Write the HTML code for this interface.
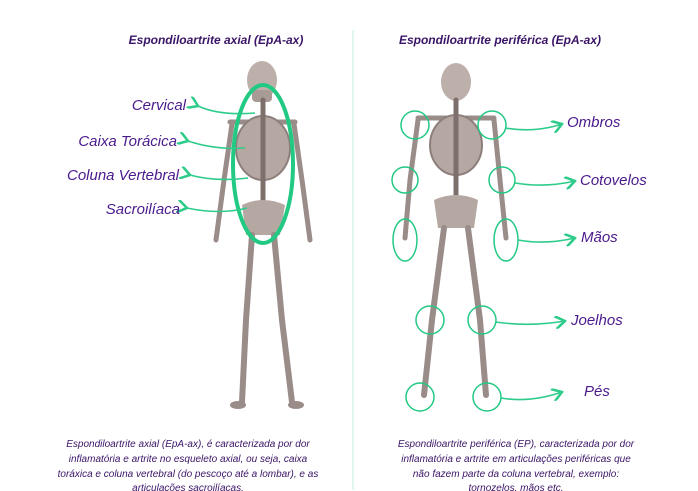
<!DOCTYPE html>
<html><head><meta charset="utf-8"><style>
body{margin:0;background:#fff;width:698px;height:491px;overflow:hidden;font-family:"Liberation Sans",sans-serif}
svg{position:absolute;left:0;top:0}
</style></head><body>
<svg width="698" height="491" viewBox="0 0 698 491" xmlns="http://www.w3.org/2000/svg">
<defs>
<marker id="ah" markerWidth="8" markerHeight="8" refX="1" refY="4" orient="auto"><path d="M7,0 L1,4 L7,8" fill="none" stroke="#2ecc8a" stroke-width="1.6"/></marker>
<marker id="ahr" markerWidth="8" markerHeight="8" refX="7" refY="4" orient="auto"><path d="M1,0 L7,4 L1,8" fill="none" stroke="#2ecc8a" stroke-width="1.6"/></marker>
</defs>
<line x1="353" y1="30" x2="353" y2="490" stroke="#c5ece0" stroke-width="1"/>
<text x="216" y="44" text-anchor="middle" font-size="12" font-weight="bold" font-style="italic" fill="#3a1466">Espondiloartrite axial (EpA-ax)</text>
<text x="500" y="44" text-anchor="middle" font-size="12" font-weight="bold" font-style="italic" fill="#3a1466">Espondiloartrite periférica (EpA-ax)</text>

<g stroke="#9a8c88" stroke-linecap="round" fill="none">
<ellipse cx="262" cy="80" rx="15" ry="19" fill="#bdb0ab" stroke="none"/>
<rect x="252" y="90" width="20" height="12" rx="4" fill="#a89b96" stroke="none"/>
<path d="M230 122 L295 122" stroke-width="5"/>
<ellipse cx="263" cy="148" rx="27" ry="32" fill="#b5a8a3" stroke="#8d807c" stroke-width="2"/>
<path d="M263 100 L263 215" stroke-width="5" stroke="#7d706c"/>
<path d="M242 205 Q263 195 285 205 L280 235 L246 235 Z" fill="#b5a8a3" stroke="none"/>
<path d="M232 124 L224 180 L216 240" stroke-width="5"/>
<path d="M294 124 L302 180 L310 240" stroke-width="5"/>
<path d="M252 235 L246 320 L242 402" stroke-width="6"/>
<path d="M274 235 L282 320 L292 402" stroke-width="6"/>
<ellipse cx="238" cy="405" rx="8" ry="4" fill="#9a8c88" stroke="none"/>
<ellipse cx="296" cy="405" rx="8" ry="4" fill="#9a8c88" stroke="none"/>
</g>
<ellipse cx="263" cy="164" rx="30" ry="79" fill="none" stroke="#22c983" stroke-width="4"/>

<g stroke="#9a8c88" stroke-linecap="round" fill="none">
<ellipse cx="456" cy="82" rx="15" ry="19" fill="#bdb0ab" stroke="none"/>
<path d="M418 118 L494 118" stroke-width="5"/>
<ellipse cx="456" cy="145" rx="26" ry="30" fill="#b5a8a3" stroke="#8d807c" stroke-width="2"/>
<path d="M456 100 L456 210" stroke-width="5" stroke="#7d706c"/>
<path d="M434 200 Q456 190 478 200 L474 228 L438 228 Z" fill="#b5a8a3" stroke="none"/>
<path d="M418 120 L410 180 L405 238" stroke-width="5"/>
<path d="M494 120 L500 180 L506 238" stroke-width="5"/>
<path d="M444 228 L432 320 L424 395" stroke-width="6"/>
<path d="M468 228 L480 320 L486 395" stroke-width="6"/>
</g>
<g fill="none" stroke="#22c983" stroke-width="1.5">
<circle cx="415" cy="125" r="14"/><circle cx="492" cy="125" r="14"/>
<circle cx="405" cy="180" r="13"/><circle cx="502" cy="180" r="13"/>
<ellipse cx="405" cy="240" rx="12" ry="21"/><ellipse cx="506" cy="240" rx="12" ry="21"/>
<circle cx="430" cy="320" r="14"/><circle cx="482" cy="320" r="14"/>
<circle cx="420" cy="397" r="14"/><circle cx="487" cy="397" r="14"/>
</g>

<g fill="none" stroke="#2ecc8a" stroke-width="1.6">
<path d="M255 113 Q220 116 198 106" marker-end="url(#ah)"/>
<path d="M245 148 Q215 150 188 141" marker-end="url(#ah)"/>
<path d="M248 178 Q215 182 190 175" marker-end="url(#ah)"/>
<path d="M247 208 Q220 215 187 208" marker-end="url(#ah)"/>
<path d="M505 128 Q535 133 562 124" marker-end="url(#ahr)"/>
<path d="M515 183 Q545 188 575 181" marker-end="url(#ahr)"/>
<path d="M518 240 Q545 245 575 238" marker-end="url(#ahr)"/>
<path d="M496 322 Q530 327 565 321" marker-end="url(#ahr)"/>
<path d="M501 398 Q530 403 562 392" marker-end="url(#ahr)"/>
</g>
<g font-size="15" font-style="italic" fill="#4a1a8c">
<text x="186" y="110" text-anchor="end">Cervical</text>
<text x="177" y="146" text-anchor="end">Caixa Torácica</text>
<text x="179" y="180" text-anchor="end">Coluna Vertebral</text>
<text x="180" y="214" text-anchor="end">Sacroilíaca</text>
<text x="567" y="127">Ombros</text>
<text x="580" y="185">Cotovelos</text>
<text x="581" y="242">Mãos</text>
<text x="571" y="325">Joelhos</text>
<text x="584" y="396">Pés</text>
</g>
<g font-size="10" font-style="italic" fill="#3a1466" text-anchor="middle">
<text x="188" y="447">Espondiloartrite axial (EpA-ax), é caracterizada por dor</text>
<text x="188" y="462">inflamatória e artrite no esqueleto axial, ou seja, caixa</text>
<text x="188" y="477">toráxica e coluna vertebral (do pescoço até a lombar), e as</text>
<text x="188" y="491">articulações sacroilíacas.</text>
<text x="516" y="447">Espondiloartrite periférica (EP), caracterizada por dor</text>
<text x="516" y="462">inflamatória e artrite em articulações periféricas que</text>
<text x="516" y="477">não fazem parte da coluna vertebral, exemplo:</text>
<text x="516" y="491">tornozelos. mãos etc.</text>
</g>
</svg>
</body></html>
